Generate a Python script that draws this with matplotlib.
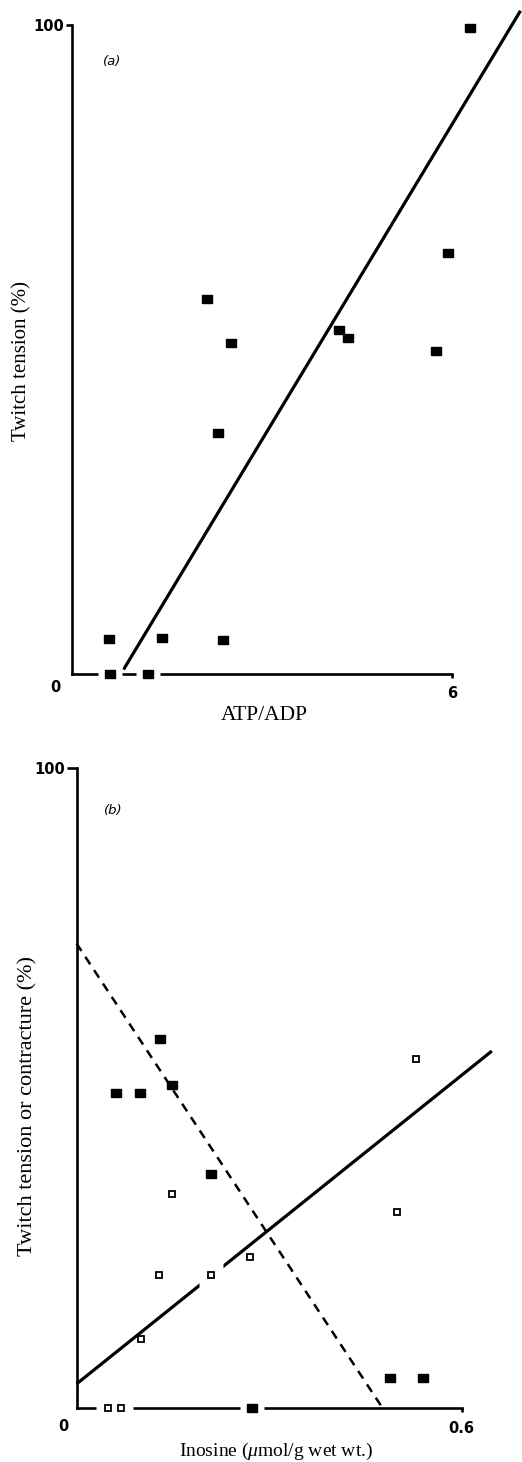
import numpy as np
import matplotlib
matplotlib.use("Agg")
import matplotlib.pyplot as plt

# (a) twitch tension vs ATP/ADP
atp_adp = [6.28, 5.94, 5.75, 2.13, 2.52, 2.31, 4.22, 4.36, 0.59, 1.42, 2.39, 0.61, 1.20]
tension_a = [99.6, 64.8, 49.8, 57.7, 51.0, 37.1, 53.0, 51.7, 5.3, 5.4, 5.2, 0, 0]
fit_a_x = [0.82, 7.08]
fit_a_y = [0.6, 102.2]

# (b) twitch tension (filled) and contracture (open) vs inosine
inosine_tw = [0.130, 0.0615, 0.0989, 0.149, 0.2095, 0.489, 0.540, 0.274]
tension_b = [57.7, 49.3, 49.3, 50.5, 36.6, 4.8, 4.8, 0]
inosine_co = [0.529, 0.149, 0.499, 0.271, 0.129, 0.209, 0.1005, 0.0486, 0.0689]
contracture_b = [54.5, 33.4, 30.6, 23.7, 20.8, 20.8, 10.8, 0, 0]
fit_tw_x = [0, 0.477]
fit_tw_y = [72.6, 0]
fit_co_x = [0, 0.647]
fit_co_y = [3.8, 55.8]

plt.rcParams['font.family'] = ['Liberation Serif', 'DejaVu Serif']
plt.rcParams['mathtext.fontset'] = 'custom'
plt.rcParams['mathtext.rm'] = 'Liberation Serif'
plt.rcParams['mathtext.it'] = 'Liberation Serif:italic'

W, H = 522, 1462
rect_marker = [(-1, -0.88), (1, -0.88), (1, 0.88), (-1, 0.88), (-1, -0.88)]


def px_axes(fig, left, top, right, bottom):
    return fig.add_axes([left / W, (H - bottom) / H, (right - left) / W, (bottom - top) / H])


def style_axes(ax, xmax, ytick_len):
    for s in ['top', 'right']:
        ax.spines[s].set_visible(False)
    for s in ['left', 'bottom']:
        ax.spines[s].set_linewidth(1.9)
        ax.spines[s].set_capstyle('projecting')
    ax.spines['left'].set_bounds(0, 100)
    ax.spines['bottom'].set_bounds(0, xmax)
    ax.set_yticks([100])
    ax.set_yticklabels(['100'])
    ax.set_xticks([xmax])
    ax.set_xticklabels([('%g' % xmax)])
    ax.tick_params(axis='y', length=ytick_len, width=1.9, pad=1, labelsize=10.5)
    ax.tick_params(axis='x', length=3, width=1.9, pad=6, labelsize=10.5)
    for lbl in ax.get_xticklabels() + ax.get_yticklabels():
        lbl.set_family('DejaVu Sans')
        lbl.set_fontweight('bold')


def halo(ax, x, y):
    ax.plot(x, y, ls='none', marker='s', ms=17, mfc='white', mec='none', zorder=3, clip_on=False)


fig = plt.figure(figsize=(W / 100, H / 100), dpi=100)

# ---- panel (a)
ax1 = px_axes(fig, 71.5, 0, 522, 673.5)
ax1.set_xlim(0, 450.5 / 63.42)
ax1.set_ylim(0, 673.5 / 6.485)
style_axes(ax1, 6, 4)
ax1.plot(fit_a_x, fit_a_y, color='black', lw=2.3, solid_capstyle='butt', zorder=2, clip_on=False)
xa = np.array(atp_adp)
ya = np.array(tension_a)
on_axis = ya == 0
halo(ax1, xa[on_axis], ya[on_axis])
ax1.plot(xa, ya, ls='none', marker=rect_marker, ms=7.2, color='black', zorder=4, clip_on=False)
ax1.annotate('0', xy=(0, 0), xytext=(-11.9, -10.4), textcoords='offset points',
             ha='center', va='center', fontsize=10.5, family='DejaVu Sans', fontweight='bold')
ax1.text(0.64, 94.4, '(a)', fontsize=9.5, family='DejaVu Sans', style='italic', ha='center', va='center')

# ---- panel (b)
ax2 = px_axes(fig, 76.5, 740, 522, 1408.3)
ax2.set_xlim(0, 445.5 / 642)
ax2.set_ylim(0, 668.3 / 6.403)
style_axes(ax2, 0.6, 7)
ax2.plot(fit_co_x, fit_co_y, color='black', lw=2.3, solid_capstyle='butt', zorder=2, clip_on=False)
ax2.plot(fit_tw_x, fit_tw_y, color='black', lw=1.8, dashes=(3.6, 2.8), zorder=2, clip_on=False)
xt = np.array(inosine_tw)
yt = np.array(tension_b)
xc = np.array(inosine_co)
yc = np.array(contracture_b)
halo(ax2, xt[yt == 0], yt[yt == 0])
on_line = np.abs(yc - np.interp(xc, fit_co_x, fit_co_y)) < 0.5
gap_c = (yc == 0) | on_line
halo(ax2, xc[gap_c], yc[gap_c])
ax2.plot(xt, yt, ls='none', marker=rect_marker, ms=7.0, color='black', zorder=4, clip_on=False)
ax2.plot(xc, yc, ls='none', marker='s', ms=4.2, mfc='white', mec='black', mew=1.3, zorder=4, clip_on=False)
ax2.annotate('0', xy=(0, 0), xytext=(-9.7, -13), textcoords='offset points',
             ha='center', va='center', fontsize=10.5, family='DejaVu Sans', fontweight='bold')
ax2.text(0.0569, 93.3, '(b)', fontsize=9.5, family='DejaVu Sans', style='italic', ha='center', va='center')

# axis titles
fig.text(264 / W, 1 - 715 / H, 'ATP/ADP', fontsize=15.5, ha='center', va='center')
fig.text(21.7 / W, 1 - 361 / H, 'Twitch tension (%)', fontsize=15, rotation=90, ha='center', va='center')
fig.text(276.5 / W, 1 - 1451.7 / H, r'Inosine ($\mathit{\mu}$mol/g wet wt.)', fontsize=14, ha='center', va='center')
fig.text(28 / W, 1 - 1106 / H, 'Twitch tension or contracture (%)', fontsize=16, rotation=90,
         ha='center', va='center')

fig.savefig('out.png', dpi=100)
